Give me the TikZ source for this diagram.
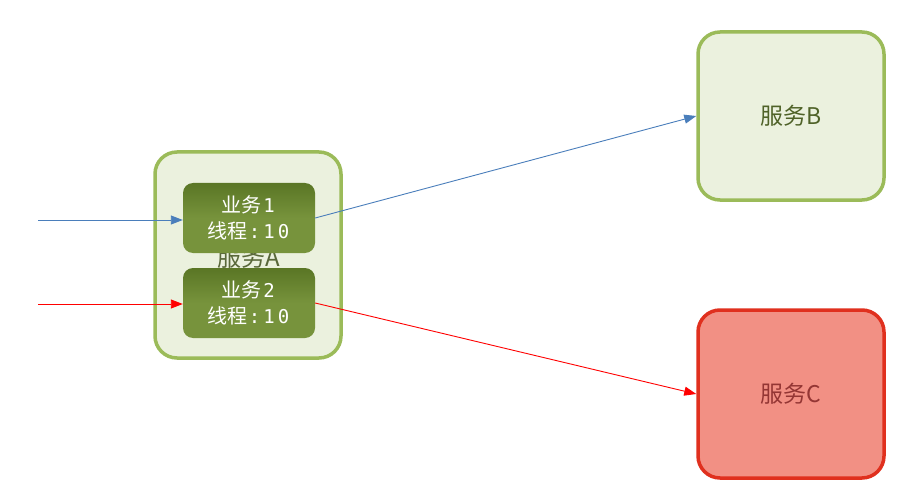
\documentclass[tikz,border=0pt]{standalone}
\usepackage{fontspec}
\setmainfont{Noto Sans CJK SC}
\newfontfamily\monofont{DejaVu Sans Mono}
\usetikzlibrary{arrows.meta}
\definecolor{svcgreen}{HTML}{9BBB59}
\definecolor{svcfill}{HTML}{EBF1DE}
\definecolor{svctext}{HTML}{4F6228}
\definecolor{jobfill}{HTML}{77933C}
\definecolor{jobtop}{HTML}{5A7625}
\definecolor{badfill}{HTML}{F29084}
\definecolor{badline}{HTML}{E0301E}
\definecolor{badtext}{HTML}{943634}
\definecolor{callblue}{HTML}{4A7EBB}
\definecolor{callred}{HTML}{FF0000}
\newcommand{\mc}[1]{\makebox[14.5pt]{\monofont\fontsize{19}{26}\selectfont #1}}
\begin{document}
\begin{tikzpicture}[x=1pt,y=-1pt]
			\tikzset{
				service/.style={draw=svcgreen, line width=3.5pt, fill=svcfill, rounded corners=22pt,
					minimum width=186pt, minimum height=168pt, text=svctext, font=\fontsize{23}{26}\selectfont},
				badservice/.style={service, draw=badline, fill=badfill, text=badtext},
				job/.style={rounded corners=10pt, minimum width=132pt, minimum height=70pt,
					top color=jobtop, bottom color=jobfill, middle color=jobfill, shading angle=0,
					text=white, align=center, font=\fontsize{20}{26}\selectfont},
				call/.style={line width=0.9pt, -{Triangle[length=12pt,width=9pt]}}
			}
			\useasboundingbox (0,0) rectangle (904,489);
			% the three services
			\node[service, minimum height=206pt, minimum width=186pt] (svcA) at (248,255) {};
			\node[text=svctext!80!gray, font=\fontsize{24}{26}\selectfont] (labA) at (249,257) {服务A};
			\node[service] (svcB) at (791,116) {服务B};
			\node[badservice] (svcC) at (791,394) {服务C};
			% the two jobs inside A
			\node[job] (job1) at (249,218) {业务\mc{1}\\线程\mc{:}\mc{1}\mc{0}};
			\node[job] (job2) at (249,303) {业务\mc{2}\\线程\mc{:}\mc{1}\mc{0}};
			% calls
			\coordinate (in1) at (38,220);
			\coordinate (in2) at (38,304);
			\draw[call, callblue] (in1) -- (in1 -| job1.west);
			\draw[call, callred] (in2) -- (in2 -| job2.west);
			\draw[call, callblue] (job1.east) -- (svcB.west);
			\draw[call, callred] (job2.east) -- (svcC.west);
\end{tikzpicture}
\end{document}
